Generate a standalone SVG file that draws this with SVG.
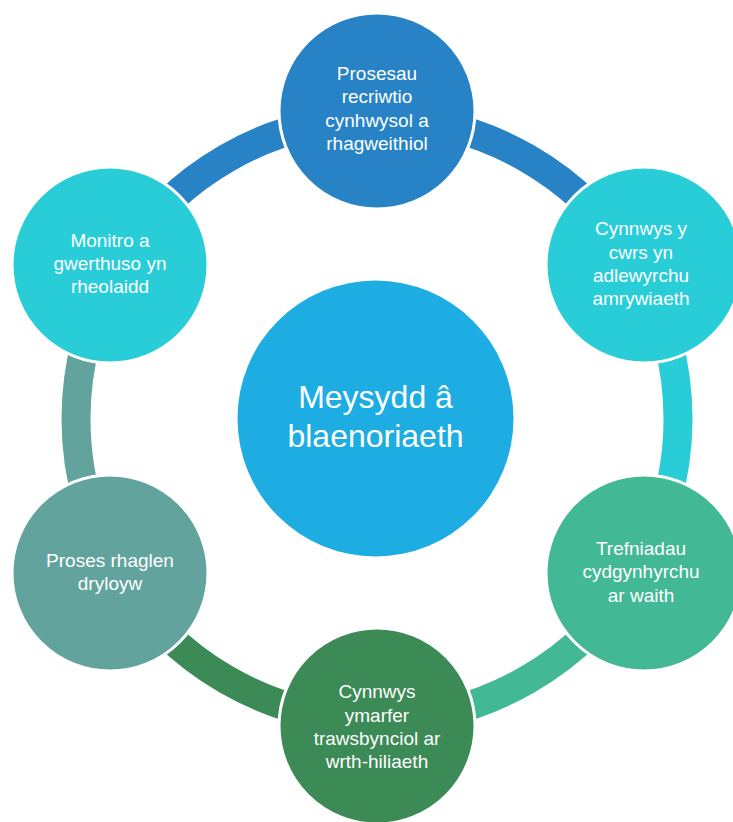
<svg xmlns="http://www.w3.org/2000/svg" width="733" height="822" viewBox="0 0 733 822">
<style>
.arc{fill:none;stroke-width:29}
.node{stroke:#ffffff;stroke-width:3}
.t{font-family:"Liberation Sans",Arial,sans-serif;font-size:19px;fill:#ffffff;text-anchor:middle}
.tc{font-family:"Liberation Sans",Arial,sans-serif;font-size:32px;fill:#ffffff;text-anchor:middle}
</style>
<rect width="733" height="822" fill="#ffffff"/>
<g id="connectors">
<path class="arc" stroke="#2783C6" d="M 116.33 268.5 A 301 301 0 0 1 377 118"/>
<path class="arc" stroke="#2783C6" d="M 377 118 A 301 301 0 0 1 637.67 268.5"/>
<path class="arc" stroke="#29CDD8" d="M 637.67 268.5 A 301 301 0 0 1 637.67 569.5"/>
<path class="arc" stroke="#43B895" d="M 637.67 569.5 A 301 301 0 0 1 377 720"/>
<path class="arc" stroke="#3C8A56" d="M 377 720 A 301 301 0 0 1 116.33 569.5"/>
<path class="arc" stroke="#62A39E" d="M 116.33 569.5 A 301 301 0 0 1 116.33 268.5"/>
</g>
<g id="center">
<circle cx="375.5" cy="418.5" r="138" fill="#1EADE3"/>
<text class="tc" x="375.5" y="408">Meysydd â</text>
<text class="tc" x="375.5" y="447">blaenoriaeth</text>
</g>
<g id="node-top">
<circle class="node" cx="377" cy="111" r="98" fill="#2783C6"/>
<text class="t" x="377" y="80">Prosesau</text>
<text class="t" x="377" y="103">recriwtio</text>
<text class="t" x="377" y="127">cynhwysol a</text>
<text class="t" x="377" y="150">rhagweithiol</text>
</g>
<g id="node-upper-right">
<circle class="node" cx="644" cy="265" r="98" fill="#29CDD8"/>
<text class="t" x="641" y="235">Cynnwys y</text>
<text class="t" x="641" y="259">cwrs yn</text>
<text class="t" x="641" y="282">adlewyrchu</text>
<text class="t" x="641" y="305">amrywiaeth</text>
</g>
<g id="node-lower-right">
<circle class="node" cx="644" cy="573" r="98" fill="#43B895"/>
<text class="t" x="641" y="555">Trefniadau</text>
<text class="t" x="641" y="578">cydgynhyrchu</text>
<text class="t" x="641" y="602">ar waith</text>
</g>
<g id="node-bottom">
<circle class="node" cx="377" cy="726" r="98" fill="#3C8A56"/>
<text class="t" x="377" y="698">Cynnwys</text>
<text class="t" x="377" y="722">ymarfer</text>
<text class="t" x="377" y="745">trawsbynciol ar</text>
<text class="t" x="377" y="768">wrth-hiliaeth</text>
</g>
<g id="node-lower-left">
<circle class="node" cx="110" cy="573" r="98" fill="#62A39E"/>
<text class="t" x="110" y="567">Proses rhaglen</text>
<text class="t" x="110" y="590">dryloyw</text>
</g>
<g id="node-upper-left">
<circle class="node" cx="110" cy="265" r="98" fill="#29CDD8"/>
<text class="t" x="110" y="247">Monitro a</text>
<text class="t" x="110" y="270">gwerthuso yn</text>
<text class="t" x="110" y="293">rheolaidd</text>
</g>
</svg>
